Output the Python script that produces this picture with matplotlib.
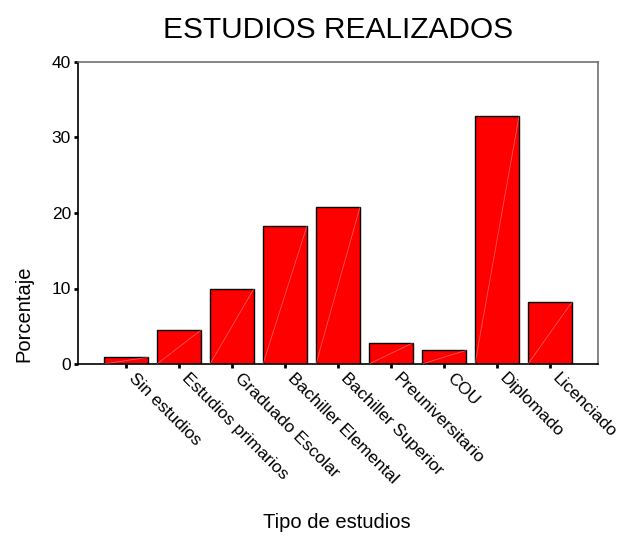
import matplotlib
matplotlib.use("Agg")
import matplotlib.pyplot as plt
import matplotlib.transforms as mtransforms
import numpy as np

plt.rcParams['font.family'] = ['Liberation Sans', 'DejaVu Sans']

categories = ["Sin estudios", "Estudios primarios", "Graduado Escolar",
              "Bachiller Elemental", "Bachiller Superior", "Preuniversitario",
              "COU", "Diplomado", "Licenciado"]
values = [0.9, 4.5, 10.0, 18.3, 20.8, 2.8, 1.8, 32.8, 8.2]
yticks = [0, 10, 20, 30, 40]

fig = plt.figure(figsize=(6.18, 5.36), dpi=100)
ax = fig.add_axes([78/618, 1 - 364/536, (598-78)/618, (364-62)/536])

x = np.arange(len(categories))
width = 0.83
ax.bar(x, values, width=width, color='#ff0000', edgecolor='black', linewidth=1.0, zorder=2)
for xi, v in zip(x, values):
    ax.plot([xi - width/2, xi + width/2], [0, v], color='white', lw=0.6, alpha=0.35, zorder=3)

ax.set_xlim(-0.906, len(categories) - 1 + 0.906)
ax.set_ylim(0, 40)
ax.set_yticks(yticks)
ax.set_xticks(x)
ax.set_xticklabels(categories, rotation=-45, ha='left', va='center', rotation_mode='anchor', fontsize=12.5)
ax.tick_params(axis='y', labelsize=12.5, length=3, width=2, direction='out', pad=2)
ax.tick_params(axis='x', length=3, width=2, direction='out', pad=2)

offset = mtransforms.ScaledTranslation(5/100, -5/100, fig.dpi_scale_trans)
for lab in ax.get_xticklabels():
    lab.set_transform(lab.get_transform() + offset)

for s in ['left', 'bottom']:
    ax.spines[s].set_color('black')
    ax.spines[s].set_linewidth(1.2)
for s in ['top', 'right']:
    ax.spines[s].set_color('#707070')
    ax.spines[s].set_linewidth(1.2)

fig.text(338/618, 1 - 30/536, "ESTUDIOS REALIZADOS", ha='center', va='center', fontsize=21.5)
fig.text(24/618, 1 - 314/536, "Porcentaje", rotation=90, ha='center', va='center', fontsize=14.5)
fig.text(337/618, 1 - 522/536, "Tipo de estudios", ha='center', va='center', fontsize=14.5)

fig.savefig("out.png", dpi=100)
